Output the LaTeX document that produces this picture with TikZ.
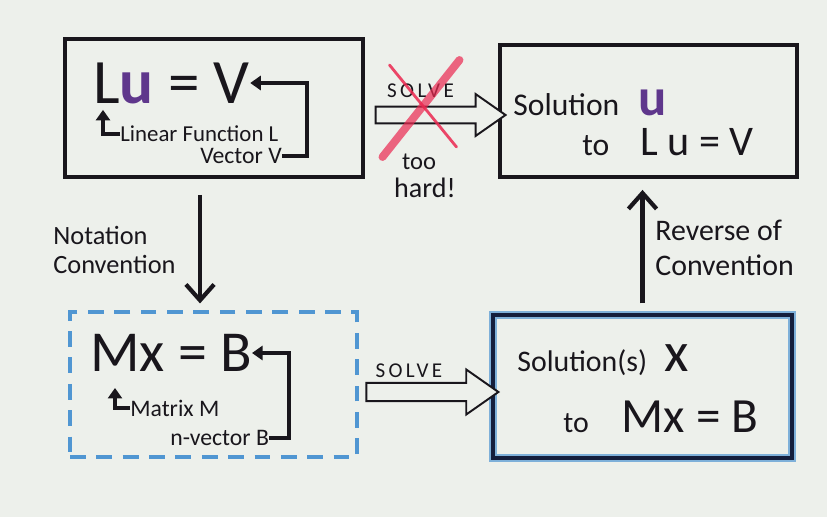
\documentclass[tikz,border=0pt]{standalone}
\usepackage{fontspec}
\setmainfont{Carlito}
\usetikzlibrary{arrows.meta,shapes.arrows,calc}

\definecolor{paper}{RGB}{237,240,235}
\definecolor{ink}{RGB}{25,22,28}
\definecolor{plum}{RGB}{95,55,140}
\definecolor{skyblue}{RGB}{80,150,210}
\definecolor{navy}{RGB}{20,30,60}
\definecolor{crossred}{RGB}{235,40,80}

\tikzset{
  box/.style={draw=ink, line width=2.2pt, inner sep=0pt},
  dashbox/.style={draw=skyblue, line width=1.8pt, dash pattern=on 9pt off 6pt, inner sep=0pt},
  solbox/.style={draw=navy, line width=2pt, inner sep=0pt,
    preaction={draw=skyblue, line width=4.5pt, opacity=0.7}},
  txt/.style={anchor=west, inner sep=0pt, text=ink},
  conv/.style={line width=2.4pt, draw=ink, -{Straight Barb[length=9pt, width=16pt]}},
  hook/.style={line width=2.4pt, draw=ink, -{Triangle[length=6pt, width=8pt]}},
  hollow/.style={single arrow, draw=ink, line width=1.1pt, fill=paper, inner sep=0.15cm,
    single arrow head extend=0.25cm, single arrow tip angle=70},
  lbl/.style={inner sep=0pt, text=ink, font=\fontsize{12}{12}\selectfont\addfontfeature{LetterSpace=16}},
  cross/.style={draw=crossred, line cap=round, opacity=0.85},
}

\begin{document}
\begin{tikzpicture}[x=0.02cm, y=-0.02cm]
    \fill[paper] (0,0) rectangle (827,517);

    % the four boxes
    \node[box, minimum width=5.96cm, minimum height=2.76cm] (lu) at (214,108) {};
    \node[box, minimum width=5.94cm, minimum height=2.64cm] (solu) at (648.5,111) {};
    \node[dashbox, minimum width=5.74cm, minimum height=2.9cm] (mx) at (213.5,384.5) {};
    \node[solbox, minimum width=5.98cm, minimum height=2.86cm] (solx) at (642.5,386.5) {};

    % Lu = V
    \node[txt, font=\fontsize{36}{36}\selectfont] (eqLu) at (93,83) {L\textcolor{plum}{\textbf{u}} = V};
    \node[txt, font=\fontsize{13}{13}\selectfont] (linfun) at (120,134) {Linear Function L};
    \node[txt, font=\fontsize{13.5}{13.5}\selectfont] (vecV) at (200,156) {Vector V};
    \draw[hook] (vecV.east) -- ++(25,0) |- (eqLu.east);
    \draw[hook, line width=1.9pt] (linfun.west) -| ([xshift=0.2cm, yshift=-0.12cm]eqLu.south west);

    % Mx = B
    \node[txt, font=\fontsize{33}{33}\selectfont] (eqMx) at (90,353) {Mx = B};
    \node[txt, font=\fontsize{13.5}{13.5}\selectfont] (matM) at (130,408) {Matrix M};
    \node[txt, font=\fontsize{13.5}{13.5}\selectfont] (nvecB) at (170,438) {n-vector B};
    \draw[hook] (nvecB.east) -- ++(20,0) |- (eqMx.east);
    \draw[hook, line width=1.9pt] (matM.west) -| ([xshift=0.5cm, yshift=-0.32cm]eqMx.south west);

    % solutions
    \node[txt, font=\fontsize{18}{18}\selectfont] (solutext) at (513,103)
        {Solution\hspace{0.38cm}\textcolor{plum}{\fontsize{30}{30}\selectfont\bfseries u}};
    \node[txt, font=\fontsize{24}{24}\selectfont] (tolu) at (582,142)
        {{\fontsize{18}{18}\selectfont to}\hspace{0.62cm}L u = V};
    \node[txt, font=\fontsize{17}{17}\selectfont] (solxtext) at (517,360)
        {Solution(s)\hspace{0.35cm}{\fontsize{32}{32}\selectfont x}};
    \node[txt, font=\fontsize{28}{28}\selectfont] (tomx) at (563,417)
        {{\fontsize{17}{17}\selectfont to}\hspace{0.66cm}Mx = B};

    % convention arrows
    \coordinate (downtop) at ([xshift=-0.28cm, yshift=-0.32cm]lu.south);
    \draw[conv, shorten >=0.14cm] (downtop) -- (downtop |- mx.north);
    \node[txt, align=left, font=\fontsize{15}{17}\selectfont] (notelbl) at (53,250) {Notation\\Convention};
    \draw[conv, shorten <=0.2cm, shorten >=0.22cm] (solx.north) -- (solx.north |- solu.south);
    \node[txt, align=left, font=\fontsize{17}{20}\selectfont] (revlbl) at (655,248) {Reverse of\\Convention};

    % solve arrows
    \node[hollow, minimum height=2.6cm, minimum width=0.8cm] (solvetop) at ($(lu.east)!0.5!(solu.west)+(3,5.5)$) {};
    \node[lbl] (solvetoplbl) at ($(solvetop)+(-14,-24)$) {SOLVE};
    \draw[cross, line width=4.5pt, opacity=0.7] ($(solvetop)+(25,-55)$) -- ($(solvetop)+(-52,42)$);
    \draw[cross, line width=1.6pt] ($(solvetop)+(-45,-50)$) -- ($(solvetop)+(22,32)$);
    \node[inner sep=0pt, text=ink, font=\fontsize{14}{14}\selectfont] (too) at (419,162) {too};
    \node[inner sep=0pt, text=ink, font=\fontsize{16}{16}\selectfont] (hard) at (425,188) {hard!};

    \node[hollow, minimum height=2.64cm, minimum width=0.9cm] (solvebot) at ($(mx.east)!0.5!(solx.west)+(1,6.5)$) {};
    \node[lbl] (solvebotlbl) at ($(solvebot)+(-17,-21)$) {SOLVE};
\end{tikzpicture}
\end{document}
